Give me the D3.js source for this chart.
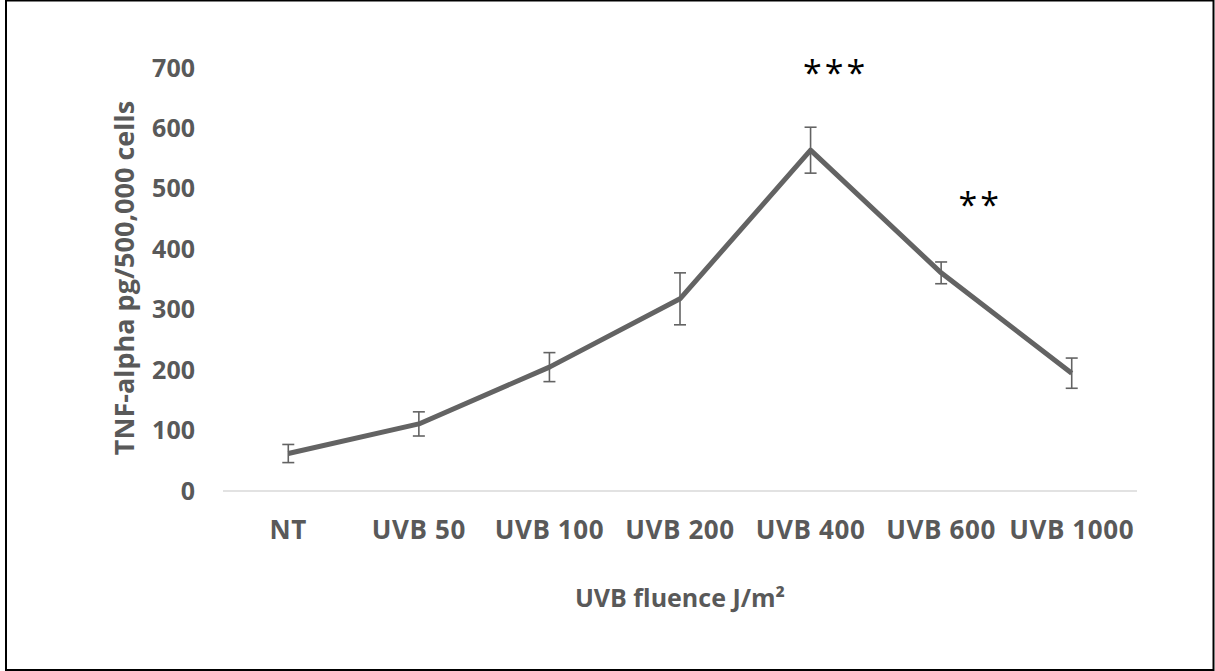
<!DOCTYPE html>
<html>
<head>
<meta charset="utf-8">
<script src="https://cdn.jsdelivr.net/npm/d3@7"></script>
<style>
  html, body { margin: 0; padding: 0; background: #fff; }
  svg { display: block; }
  text { font-family: "Open Sans", Lato, sans-serif; }
</style>
</head>
<body>
<div id="chart"></div>
<script>
var categories = ["NT", "UVB 50", "UVB 100", "UVB 200", "UVB 400", "UVB 600", "UVB 1000"];
var values = [62, 111, 205, 318, 564, 361, 195];
var errors = [15, 20, 24, 43, 38, 18, 25];
var yTicks = [0, 100, 200, 300, 400, 500, 600, 700];
var sigLabels = ["***", "**"];
var sigCats = ["UVB 400", "UVB 600"];
var sigLevels = [700, 481];

var width = 1215;
var height = 671;
var margin = {top: 68, right: 78, bottom: 180, left: 223};
var innerW = width - margin.left - margin.right;
var innerH = height - margin.top - margin.bottom;
var grey = "#595959";
var sigShift = [25, 39];

var svg = d3.select("#chart").append("svg")
  .attr("width", width)
  .attr("height", height);

svg.append("rect")
  .attr("x", 6).attr("y", 0.5)
  .attr("width", width - 7.5).attr("height", height - 1.5)
  .attr("fill", "#fff").attr("stroke", "#000").attr("stroke-width", 2);

var g = svg.append("g").attr("transform", "translate(" + margin.left + "," + margin.top + ")");

var x = d3.scaleBand().domain(categories).range([0, innerW]);
var y = d3.scaleLinear().domain([0, 700]).range([innerH, 0]);

// baseline
g.append("line")
  .attr("x1", 0).attr("x2", innerW)
  .attr("y1", y(0)).attr("y2", y(0))
  .attr("stroke", "#d9d9d9").attr("stroke-width", 1.5);

var yAxis = g.append("g")
  .call(d3.axisLeft(y).tickValues(yTicks).tickSize(0).tickPadding(28));
yAxis.select(".domain").remove();
yAxis.selectAll("text")
  .attr("fill", grey).attr("font-size", 25).attr("font-weight", "bold");

var xAxis = g.append("g")
  .attr("transform", "translate(0," + innerH + ")")
  .call(d3.axisBottom(x).tickSize(0).tickPadding(30));
xAxis.select(".domain").remove();
xAxis.selectAll("text")
  .attr("fill", grey).attr("font-size", 26).attr("font-weight", "bold")
  .attr("letter-spacing", 0.6);

function cx(d) { return x(d) + x.bandwidth() / 2; }

var data = categories.map(function(c, i) {
  return {cat: c, value: values[i], err: errors[i]};
});

var line = d3.line()
  .x(function(d) { return cx(d.cat); })
  .y(function(d) { return y(d.value); });

g.append("path")
  .datum(data)
  .attr("d", line)
  .attr("fill", "none")
  .attr("stroke", "#636363")
  .attr("stroke-width", 5)
  .attr("stroke-linejoin", "round");

var eb = g.selectAll(".err").data(data).enter().append("g").attr("class", "err")
  .attr("stroke", "#636363").attr("stroke-width", 1.6);
eb.append("line")
  .attr("x1", function(d) { return cx(d.cat); })
  .attr("x2", function(d) { return cx(d.cat); })
  .attr("y1", function(d) { return y(d.value + d.err); })
  .attr("y2", function(d) { return y(d.value - d.err); });
eb.append("line")
  .attr("x1", function(d) { return cx(d.cat) - 6; })
  .attr("x2", function(d) { return cx(d.cat) + 6; })
  .attr("y1", function(d) { return y(d.value + d.err); })
  .attr("y2", function(d) { return y(d.value + d.err); });
eb.append("line")
  .attr("x1", function(d) { return cx(d.cat) - 6; })
  .attr("x2", function(d) { return cx(d.cat) + 6; })
  .attr("y1", function(d) { return y(d.value - d.err); })
  .attr("y2", function(d) { return y(d.value - d.err); });

var marks = sigLabels.map(function(l, i) {
  return {label: l, cat: sigCats[i], at: sigLevels[i], shift: sigShift[i]};
});

g.selectAll(".sig").data(marks).enter().append("text")
  .attr("class", "sig")
  .attr("x", function(d) { return cx(d.cat) + d.shift; })
  .attr("y", function(d) { return y(d.at) + 17; })
  .attr("text-anchor", "middle")
  .attr("font-family", "'DejaVu Sans', sans-serif")
  .attr("font-size", 34)
  .attr("letter-spacing", 3)
  .attr("fill", "#000")
  .text(function(d) { return d.label; });

// axis titles
svg.append("text")
  .attr("x", margin.left + innerW / 2)
  .attr("y", 607)
  .attr("text-anchor", "middle")
  .attr("fill", grey).attr("font-size", 25).attr("font-weight", "bold")
  .text("UVB fluence J/m²");

svg.append("text")
  .attr("transform", "translate(134,278) rotate(-90)")
  .attr("text-anchor", "middle")
  .attr("fill", grey).attr("font-size", 27).attr("font-weight", "bold")
  .text("TNF-alpha pg/500,000 cells");
</script>
</body>
</html>
